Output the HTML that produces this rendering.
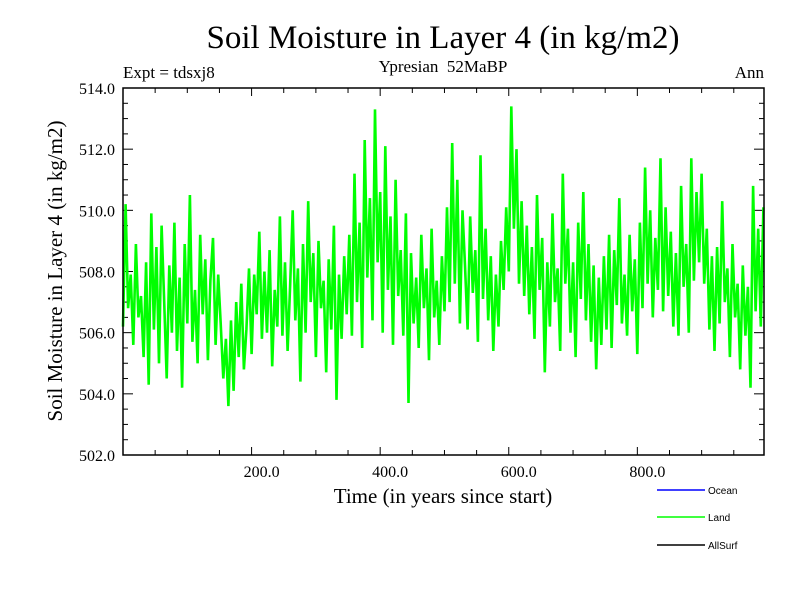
<!DOCTYPE html>
<html><head><meta charset="utf-8"><style>
body{margin:0;background:#fff;}
svg{display:block;font-family:"Liberation Serif",serif;}
</style></head><body>
<svg id="chart" width="800" height="600">
<text x="443" y="48" font-size="33" text-anchor="middle">Soil Moisture in Layer 4 (in kg/m2)</text>
<text x="123" y="78" font-size="17">Expt = tdsxj8</text>
<text x="443" y="72" font-size="17" text-anchor="middle">Ypresian&#160; 52MaBP</text>
<text x="764" y="78" font-size="17" text-anchor="end">Ann</text>
<text x="443" y="503" font-size="21" text-anchor="middle">Time (in years since start)</text>
<text transform="translate(62,271) rotate(-90)" font-size="21" text-anchor="middle">Soil Moisture in Layer 4 (in kg/m2)</text>
<g id="ticks"></g>
<g id="series"></g>
<rect x="123" y="88" width="641" height="367" fill="none" stroke="#000" stroke-width="1.5"/>
<g font-family="Liberation Sans, sans-serif" font-size="10">
<g><line x1="657" y1="490" x2="705" y2="490" stroke="#0000ff" stroke-width="1.5"/><text x="708" y="494">Ocean</text></g>
<g><line x1="657" y1="517" x2="705" y2="517" stroke="#00ff00" stroke-width="1.5"/><text x="708" y="521">Land</text></g>
<g><line x1="657" y1="545" x2="705" y2="545" stroke="#000" stroke-width="1.5"/><text x="708" y="549">AllSurf</text></g>
</g>
</svg>
<script>
const xTickValues=[200,400,600,800];
const yTickValues=[502,504,506,508,510,512,514];
const landValues=[
506.2,510.2,506.8,507.9,505.6,508.9,506.5,507.2,505.2,508.3,
504.3,509.9,506.1,508.8,505.0,509.5,507.1,504.5,508.2,506.0,
509.6,505.4,507.8,504.2,508.9,506.3,510.5,505.7,507.4,505.0,
509.2,506.6,508.4,505.1,507.7,509.1,505.6,507.9,506.3,504.5,
505.8,503.6,506.4,504.1,507.0,505.2,507.6,504.8,506.1,508.1,
505.3,507.9,506.6,509.3,505.8,508.0,506.0,508.7,504.9,507.4,
506.2,509.8,505.9,508.3,505.4,507.6,510.0,506.4,508.1,504.4,
508.9,506.0,510.3,507.0,508.6,505.2,509.0,506.8,507.7,504.7,
508.4,506.1,509.5,503.8,507.9,505.8,508.5,506.6,509.2,505.9,
511.2,507.0,509.6,505.5,512.3,507.8,510.4,506.4,513.3,508.3,
510.6,506.0,512.1,507.4,509.8,505.6,511.0,507.2,508.7,505.9,
509.9,503.7,508.6,506.3,507.8,505.5,509.2,506.8,508.1,505.1,
509.4,506.5,507.7,505.6,508.5,506.7,510.1,507.0,512.2,507.6,
511.0,506.3,510.0,508.2,506.1,509.8,507.3,508.7,505.7,511.8,
507.1,509.4,506.4,508.5,505.4,507.9,506.2,509.0,507.4,510.1,
508.0,513.4,509.4,512.0,507.6,510.3,507.2,509.5,506.6,508.8,
505.8,510.5,507.4,509.1,504.7,508.3,506.2,509.9,507.0,508.1,
505.4,511.2,507.6,509.4,506.0,508.3,505.2,509.6,507.1,510.6,
506.4,508.9,505.7,508.2,504.8,507.8,505.6,508.5,506.1,509.2,
505.5,508.7,506.9,510.4,506.3,507.9,505.9,509.2,506.7,508.4,
505.3,509.6,506.8,511.4,507.6,510.0,506.5,509.1,507.4,511.7,
506.7,510.1,507.2,509.3,506.2,508.6,505.9,510.8,507.5,508.9,
506.0,511.7,507.7,510.6,508.3,511.2,507.6,509.4,506.1,508.5,
505.4,508.8,506.3,510.3,507.0,508.1,505.2,508.9,506.5,507.6,
504.8,508.2,505.9,507.5,504.2,510.8,506.7,509.4,506.2,510.1];
const yearStep=4;
const X0=123,X1=764,Y0=455,Y1=88,xMin=0,xMax=997,yMin=502,yMax=514;
const xs=v=>X0+(v-xMin)/(xMax-xMin)*(X1-X0);
const ys=v=>Y0-(v-yMin)/(yMax-yMin)*(Y0-Y1);
const NS='http://www.w3.org/2000/svg';
const tg=document.getElementById('ticks');
function ln(x1,y1,x2,y2){const l=document.createElementNS(NS,'line');l.setAttribute('x1',x1);l.setAttribute('y1',y1);l.setAttribute('x2',x2);l.setAttribute('y2',y2);l.setAttribute('stroke','#000');l.setAttribute('stroke-width','1');tg.appendChild(l);return l;}
for(let v=50;v<xMax;v+=50){const x=xs(v),maj=v%200===0,len=maj?8:5;
const a=ln(x,Y0,x,Y0-len);
const b=ln(x,Y1,x,Y1+len);}
for(let v=502.5;v<514;v+=0.5){const y=ys(v),maj=Math.abs(v%2)<1e-6,len=maj?10:5;
const a=ln(X0,y,X0+len,y);
const b=ln(X1,y,X1-len,y);}
xTickValues.forEach(v=>{const t=document.createElementNS(NS,'text');t.setAttribute('x',xs(v)+10);t.setAttribute('y',477);t.setAttribute('font-size','16');t.setAttribute('text-anchor','middle');t.textContent=v.toFixed(1);


tg.appendChild(t);});
yTickValues.forEach(v=>{const t=document.createElementNS(NS,'text');t.setAttribute('x',115);t.setAttribute('y',ys(v)+6);t.setAttribute('font-size','16');t.setAttribute('text-anchor','end');t.textContent=v.toFixed(1);


tg.appendChild(t);});
const p=document.createElementNS(NS,'polyline');
p.setAttribute('points',landValues.map((v,i)=>xs(i*yearStep).toFixed(1)+','+ys(v).toFixed(1)).join(' '));
p.setAttribute('fill','none');p.setAttribute('stroke','#00ff00');p.setAttribute('stroke-width','2.6');p.setAttribute('stroke-linejoin','miter');p.setAttribute('stroke-miterlimit','1');


document.getElementById('series').appendChild(p);
</script>
</body></html>
